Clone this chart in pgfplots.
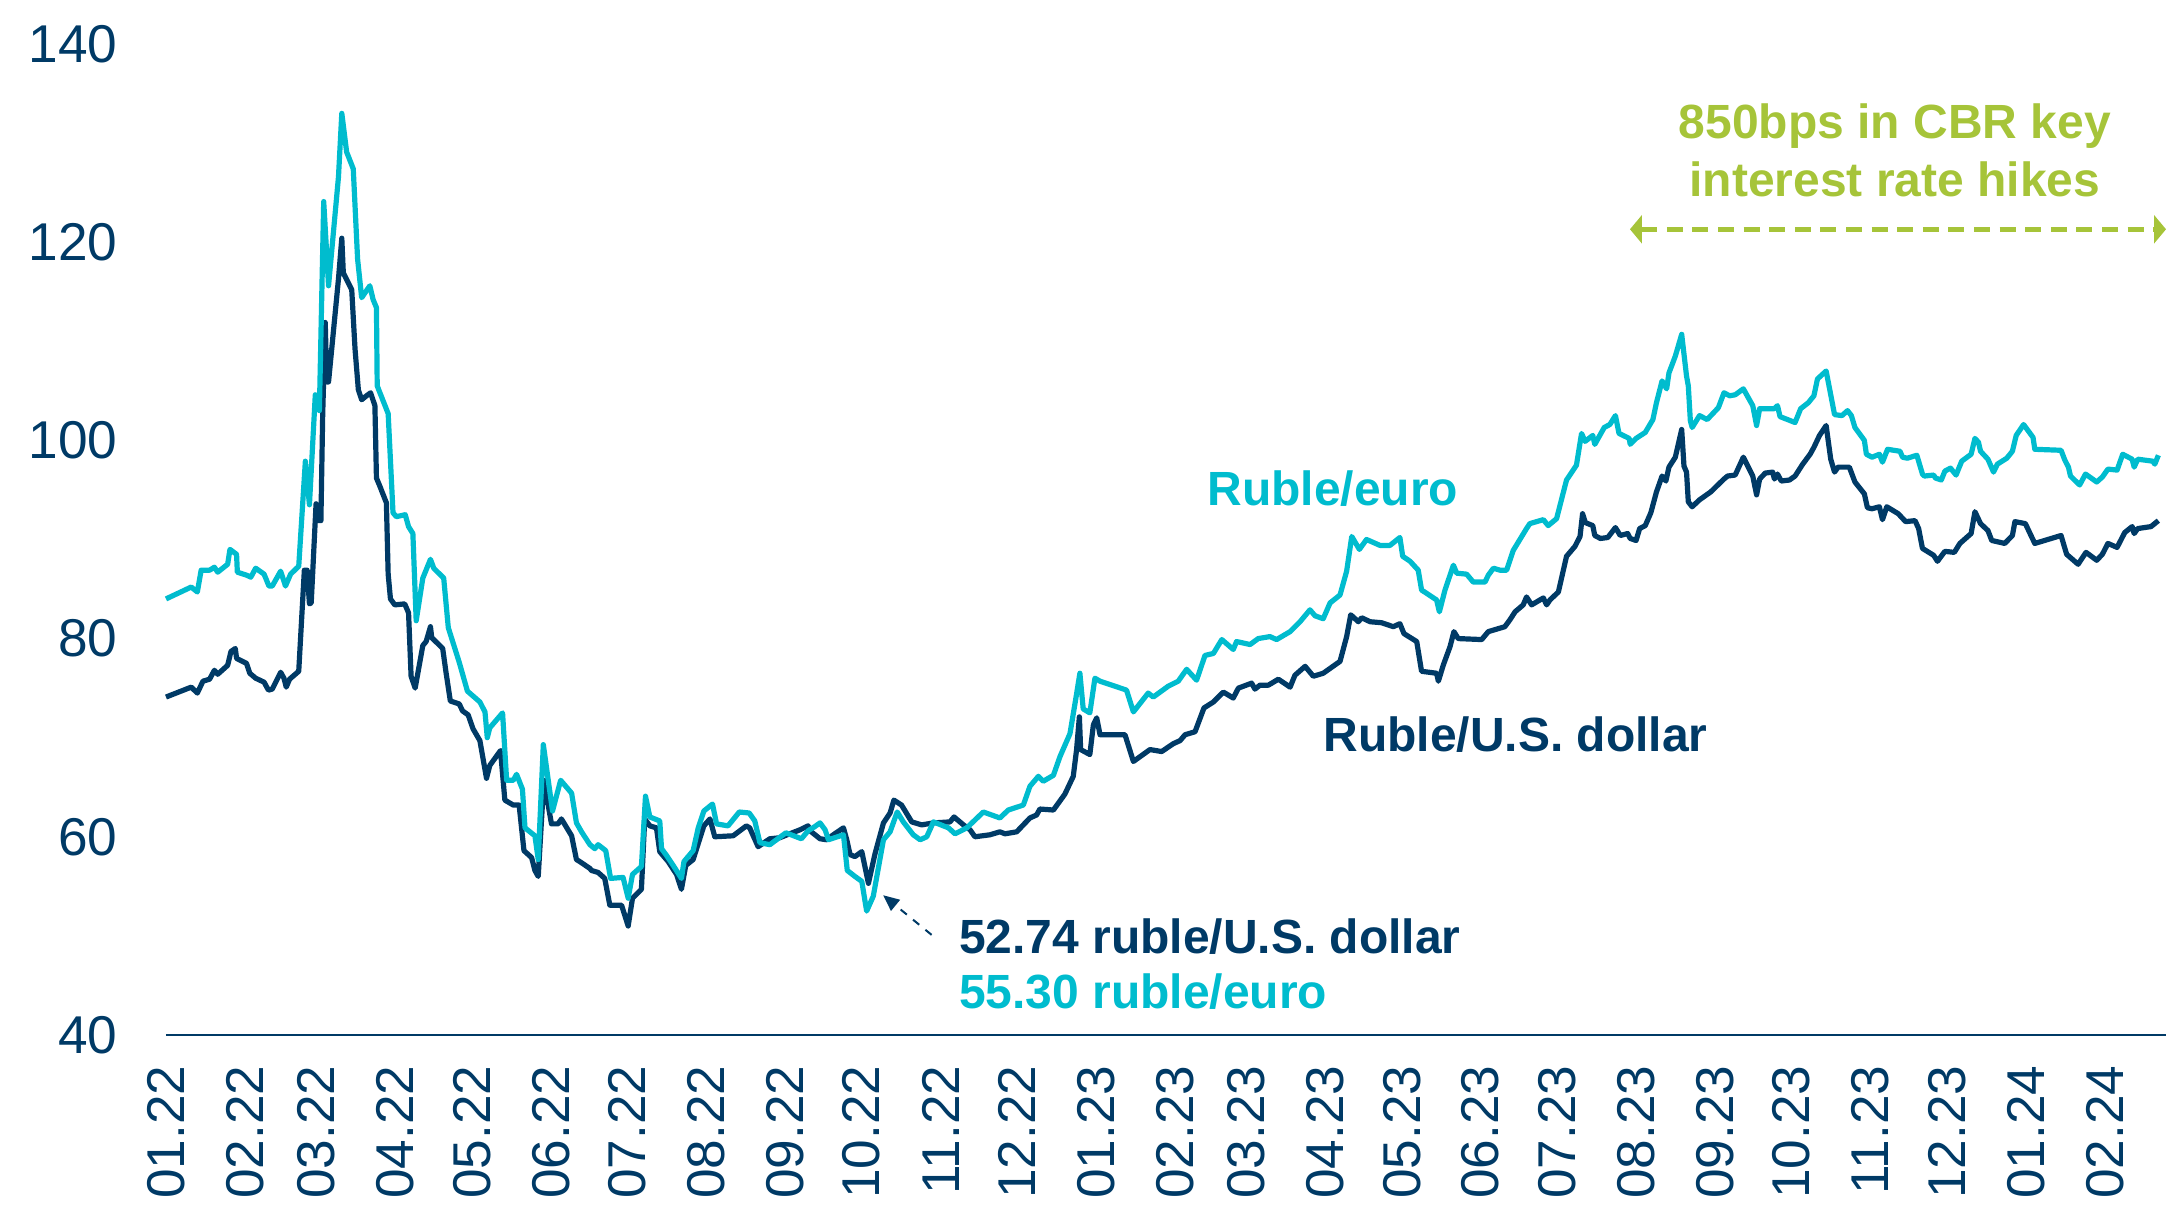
\documentclass[border=0pt]{standalone}
\usepackage{pgfplots}
\pgfplotsset{compat=1.18}
\usepackage{fontspec}
\setmainfont{Liberation Sans}
\usetikzlibrary{arrows.meta}
\definecolor{navy}{RGB}{0,58,102}
\definecolor{teal}{RGB}{0,188,206}
\definecolor{lime}{RGB}{166,196,57}
\begin{document}
\begin{tikzpicture}
\begin{axis}[
  at={(0,0)}, anchor=south west,
  scale only axis, width=500pt, height=247.75pt,
  xmin=0, xmax=785, ymin=40, ymax=140,
  axis x line*=bottom, axis y line*=left,
  x axis line style={navy, line width=0.6pt},
  y axis line style={draw=none},
  major tick length=0pt,
  ytick={40,60,80,100,120,140},
  xtick={0,31,59,90,120,151,181,212,243,273,304,334,365,396,424,455,485,516,546,577,608,638,669,699,730,761},
  xticklabels={01.22,02.22,03.22,04.22,05.22,06.22,07.22,08.22,09.22,10.22,11.22,12.22,01.23,02.23,03.23,04.23,05.23,06.23,07.23,08.23,09.23,10.23,11.23,12.23,01.24,02.24},
  /pgf/number format/assume math mode=true,
  tick label style={font=\fontsize{13.3}{16}\selectfont, text=navy},
  yticklabel style={anchor=east, inner sep=0pt, xshift=-12pt},
  xticklabel style={yshift=-7.5pt, rotate=90, anchor=east, inner sep=0pt},
  clip=false,
]
% Ruble / U.S. dollar
\addplot[navy, line width=1.3pt, line join=round] coordinates {
(0,74.1)(9.9,75.1)(12.3,74.5)(14.5,75.7)(17.1,75.9)(19.0,76.8)(20.3,76.4)(24.2,77.3)(25.5,78.7)(27.2,79.0)(27.7,78.0)(31.6,77.5)(32.9,76.5)(35.2,76.0)(38.5,75.6)(40.2,74.8)(41.7,74.9)(45.0,76.6)(46.3,76.0)(47.2,75.1)(48.5,75.9)(52.1,76.7)(54.3,86.9)(55.4,86.9)(56.3,83.5)(57.0,83.6)(58.9,93.6)(59.9,91.9)(60.8,91.9)(61.5,102.6)(62.5,111.9)(63.1,105.9)(63.8,105.9)(67.7,116.3)(69.0,120.4)(69.6,116.9)(72.9,115.2)(74.2,109.2)(75.5,105.1)(76.8,104.1)(78.7,104.5)(80.3,104.8)(82.0,103.5)(82.6,96.2)(83.9,95.4)(86.5,93.7)(87.2,86.5)(88.1,84.0)(89.8,83.4)(93.7,83.5)(95.2,82.6)(96.2,76.2)(97.8,75.0)(100.8,79.3)(102.1,79.7)(103.8,81.2)(104.3,80.1)(108.6,79.0)(109.9,76.6)(111.6,73.7)(115.1,73.4)(116.4,72.7)(118.6,72.3)(120.5,70.9)(123.2,69.7)(125.8,65.9)(127.1,67.2)(131.3,68.7)(133.0,63.7)(136.3,63.2)(138.6,63.2)(140.5,58.6)(143.5,57.9)(144.8,56.6)(146.1,56.0)(148.3,65.7)(151.3,61.3)(153.9,61.3)(155.2,61.8)(159.2,60.1)(161.1,57.7)(162.4,57.5)(166.4,56.8)(167.0,56.6)(169.6,56.4)(172.2,55.8)(174.2,53.1)(178.8,53.1)(181.4,51.0)(183.1,53.8)(186.6,54.7)(187.9,61.8)(189.9,61.1)(192.5,60.9)(193.8,58.5)(197.1,57.5)(200.4,56.2)(202.3,54.7)(204.0,57.1)(206.9,57.7)(209.5,59.8)(211.1,61.1)(213.5,61.8)(215.4,60.0)(222.6,60.1)(227.8,61.1)(229.1,60.9)(232.4,59.0)(237.0,59.8)(240.9,59.9)(244.8,60.3)(248.8,60.7)(252.0,61.1)(253.3,60.5)(256.7,59.8)(259.3,59.7)(261.9,60.2)(265.9,60.9)(267.2,59.7)(268.5,58.2)(270.4,58.0)(273.1,58.5)(275.7,55.3)(278.3,58.3)(281.6,61.4)(284.2,62.4)(285.7,63.7)(288.7,63.2)(292.7,61.5)(296.6,61.2)(301.2,61.4)(307.7,61.5)(309.3,62.0)(313.0,61.2)(315.6,60.7)(317.5,60.0)(323.4,60.2)(327.3,60.5)(329.3,60.3)(333.9,60.5)(336.5,61.2)(339.1,61.9)(341.7,62.2)(343.0,62.8)(348.3,62.7)(352.8,64.3)(356.1,66.1)(357.4,68.8)(358.5,72.1)(359.0,68.8)(362.6,68.3)(364.0,71.3)(365.3,72.0)(366.6,70.3)(376.4,70.3)(379.7,67.6)(386.2,68.8)(390.8,68.6)(395.4,69.4)(398.0,69.7)(400.0,70.3)(403.9,70.6)(407.4,73.0)(411.1,73.6)(415.0,74.6)(418.9,74.0)(420.9,75.0)(426.1,75.5)(427.4,74.9)(429.4,75.3)(432.7,75.3)(436.6,75.9)(441.2,75.1)(443.1,76.3)(447.1,77.2)(450.3,76.2)(454.2,76.5)(460.8,77.7)(463.4,80.2)(465.0,82.4)(468.0,81.7)(469.3,82.1)(472.6,81.7)(477.1,81.6)(481.7,81.2)(484.3,81.5)(485.9,80.5)(490.9,79.7)(492.8,76.7)(498.7,76.5)(499.4,75.7)(501.3,77.3)(504.0,79.2)(505.5,80.7)(507.2,80.0)(516.4,79.9)(519.0,80.7)(525.5,81.2)(527.5,81.9)(529.5,82.7)(532.7,83.4)(534.0,84.2)(536.0,83.4)(540.6,84.1)(541.9,83.4)(543.2,83.9)(546.5,84.7)(549.7,88.3)(553.0,89.3)(555.0,90.3)(556.0,92.6)(557.1,91.7)(560.0,91.4)(560.8,90.4)(563.0,90.1)(565.9,90.2)(568.9,91.2)(570.8,90.4)(573.7,90.6)(574.7,90.1)(577.0,89.9)(578.4,91.1)(580.6,91.4)(582.8,92.7)(585.0,94.8)(587.2,96.4)(588.7,95.9)(589.9,97.3)(592.4,98.3)(594.9,101.1)(595.8,97.4)(596.8,96.8)(597.5,93.8)(599.0,93.3)(601.9,94.0)(606.3,94.8)(611.5,96.1)(612.9,96.4)(615.9,96.5)(619.1,98.3)(622.8,96.4)(624.3,94.5)(625.5,96.1)(627.7,96.7)(630.6,96.8)(631.3,96.1)(632.5,96.6)(634.0,95.9)(637.2,96.0)(639.4,96.4)(642.4,97.6)(645.3,98.6)(646.8,99.3)(649.0,100.5)(651.6,101.5)(653.4,98.1)(654.9,96.8)(656.3,97.3)(660.7,97.3)(662.9,95.8)(666.6,94.6)(667.8,93.2)(669.6,93.1)(672.5,93.3)(673.7,92.0)(675.4,93.3)(679.9,92.6)(682.8,91.8)(686.5,91.9)(687.9,91.1)(689.4,89.1)(693.8,88.4)(695.3,87.8)(698.2,88.8)(701.9,88.7)(704.1,89.6)(708.5,90.6)(710.0,92.8)(712.2,91.6)(715.1,90.9)(716.6,89.9)(721.7,89.6)(724.7,90.4)(725.7,91.8)(729.8,91.6)(732.0,90.4)(733.5,89.6)(743.8,90.4)(746.0,88.5)(750.5,87.5)(753.6,88.7)(757.8,87.9)(760.0,88.5)(762.2,89.6)(765.8,89.2)(768.8,90.7)(771.7,91.3)(772.5,90.6)(773.9,91.1)(779.1,91.3)(782.0,91.9)
};
% Ruble / euro
\addplot[teal, line width=1.3pt, line join=round] coordinates {
(0,84.0)(9.9,85.2)(12.3,84.7)(13.8,86.9)(17.1,86.9)(19.0,87.2)(20.3,86.7)(24.2,87.5)(25.1,89.0)(27.7,88.5)(28.0,86.7)(31.6,86.4)(33.3,86.2)(35.2,87.1)(38.5,86.5)(40.4,85.3)(41.7,85.3)(45.0,86.8)(46.9,85.3)(48.9,86.5)(52.1,87.3)(54.7,97.9)(56.3,93.5)(58.6,104.6)(60.2,103.0)(61.9,124.1)(63.8,115.6)(67.7,126.6)(69.0,133.0)(70.9,129.1)(73.5,127.4)(75.2,118.3)(76.8,114.4)(80.0,115.6)(81.3,114.2)(82.6,113.4)(82.9,105.5)(87.2,102.7)(89.1,92.7)(90.4,92.3)(93.9,92.5)(95.2,91.3)(96.9,90.6)(98.2,81.8)(100.8,86.1)(103.8,88.0)(105.1,87.1)(109.0,86.1)(110.8,81.1)(115.1,77.6)(118.3,74.7)(123.2,73.6)(125.2,72.6)(126.1,70.0)(127.1,71.0)(132.1,72.5)(133.7,65.7)(136.3,65.7)(137.6,66.3)(139.9,64.8)(140.9,60.9)(144.8,60.1)(146.1,57.7)(148.1,69.3)(151.7,62.6)(154.9,65.7)(159.2,64.4)(161.1,61.4)(163.1,60.5)(166.4,59.2)(168.3,58.8)(169.6,59.2)(172.6,58.6)(174.5,55.8)(179.4,55.9)(181.4,53.8)(183.1,56.2)(186.6,57.0)(188.2,64.1)(189.9,62.0)(193.8,61.6)(194.5,58.8)(196.5,58.1)(199.1,57.1)(202.3,55.8)(203.3,57.5)(206.9,58.6)(208.9,60.9)(211.1,62.6)(214.5,63.3)(216.1,61.3)(220.6,61.1)(225.0,62.5)(228.9,62.4)(231.1,61.6)(233.1,59.4)(237.0,59.2)(243.3,60.4)(249.4,59.8)(252.0,60.6)(254.5,61.0)(256.7,61.4)(258.7,60.7)(260.0,59.7)(265.9,60.2)(267.4,56.6)(270.4,56.0)(273.1,55.5)(275.0,52.5)(277.6,54.0)(281.6,59.7)(284.2,60.5)(287.0,62.5)(289.4,61.5)(293.3,60.2)(296.0,59.7)(298.6,60.0)(301.2,61.5)(307.1,60.9)(309.7,60.3)(314.3,60.9)(320.8,62.5)(327.3,61.9)(330.6,62.7)(336.5,63.2)(339.1,65.1)(342.4,66.1)(344.3,65.6)(348.3,66.2)(350.9,68.1)(354.8,70.4)(357.2,74.1)(358.7,76.5)(360.0,72.9)(362.6,72.5)(364.6,76.0)(366.6,75.7)(377.0,74.8)(379.7,72.6)(385.5,74.5)(387.5,74.1)(393.4,75.2)(397.3,75.7)(400.6,76.9)(404.5,75.8)(407.8,78.3)(411.1,78.5)(414.4,79.9)(418.9,78.9)(420.2,79.7)(425.5,79.4)(428.7,80.0)(433.3,80.2)(435.9,79.9)(441.2,80.7)(445.1,81.7)(449.0,82.9)(451.0,82.3)(454.2,82.0)(456.9,83.6)(460.8,84.4)(463.4,86.8)(465.4,90.3)(468.4,89.0)(471.2,90.0)(476.5,89.4)(480.4,89.4)(484.3,90.2)(485.4,88.3)(488.3,87.8)(491.5,86.9)(492.8,84.9)(498.7,83.9)(499.8,82.7)(502.0,84.9)(505.3,87.4)(506.6,86.6)(510.5,86.5)(513.1,85.7)(517.7,85.7)(519.0,86.4)(521.0,87.1)(523.6,86.9)(526.2,86.9)(528.8,88.9)(534.0,91.1)(535.3,91.6)(540.6,92.0)(542.5,91.4)(545.8,92.1)(549.7,96.0)(553.6,97.5)(555.6,100.7)(557.0,99.9)(560.0,100.5)(560.8,99.6)(564.5,101.3)(566.7,101.6)(568.9,102.5)(570.3,100.7)(574.3,100.2)(574.7,99.6)(577.0,100.2)(580.6,100.8)(583.6,102.1)(585.0,103.8)(587.2,106.0)(589.0,105.2)(589.9,106.8)(592.4,108.5)(594.9,110.7)(596.8,106.5)(597.5,105.5)(598.3,102.0)(599.0,101.3)(601.9,102.5)(604.9,102.1)(609.3,103.3)(611.5,104.8)(613.7,104.5)(615.9,104.6)(619.1,105.2)(622.8,103.5)(624.3,101.5)(625.5,103.2)(631.3,103.2)(632.5,103.5)(633.5,102.4)(639.4,101.8)(641.6,103.2)(644.6,103.8)(646.8,104.5)(648.2,106.2)(651.6,107.0)(654.9,102.6)(657.8,102.5)(660.0,103.0)(661.5,102.5)(662.9,101.3)(666.6,100.0)(667.4,98.6)(669.6,98.3)(672.5,98.6)(673.7,97.8)(675.7,99.1)(680.6,98.9)(681.6,98.3)(683.5,98.2)(687.2,98.5)(689.4,96.6)(690.1,96.4)(693.8,96.5)(694.5,96.2)(696.8,96.0)(698.2,96.9)(700.4,97.2)(702.6,96.5)(704.8,97.9)(708.5,98.6)(710.0,100.2)(711.4,99.8)(712.2,98.9)(715.1,98.1)(717.3,96.8)(718.8,97.6)(722.5,98.2)(724.7,98.9)(726.2,100.5)(729.1,101.6)(732.8,100.3)(733.5,99.1)(743.8,99.0)(745.3,98.0)(746.7,97.3)(747.5,96.4)(751.1,95.5)(753.4,96.6)(757.8,95.8)(760.0,96.3)(762.2,97.1)(765.8,97.0)(768.0,98.6)(771.7,98.1)(772.5,97.3)(773.9,98.1)(779.8,97.9)(780.6,97.6)(782.0,98.5)
};
% annotations
\node[anchor=west, inner sep=0pt, text=teal, font=\bfseries\fontsize{12}{14}\selectfont] at (axis cs:408.5,95.1) {Ruble/euro};
\node[anchor=west, inner sep=0pt, text=navy, font=\bfseries\fontsize{12}{14}\selectfont] at (axis cs:454,70.3) {Ruble/U.S. dollar};
\node[anchor=west, inner sep=0pt, text=navy, font=\bfseries\fontsize{12}{14}\selectfont] at (axis cs:311,49.9) {52.74 ruble/U.S. dollar};
\node[anchor=west, inner sep=0pt, text=teal, font=\bfseries\fontsize{12}{14}\selectfont] at (axis cs:311,44.4) {55.30 ruble/euro};
\draw[navy, line width=0.5pt, dash pattern=on 2pt off 2pt, -{Triangle[length=4pt,width=3.5pt]}] (axis cs:300.5,50.1) -- (axis cs:281.5,54.1);
\node[inner sep=0pt, text=lime, font=\bfseries\fontsize{12}{14}\selectfont] at (axis cs:678.6,131.7) {850bps in CBR key};
\node[inner sep=0pt, text=lime, font=\bfseries\fontsize{12}{14}\selectfont] at (axis cs:678.6,126.3) {interest rate hikes};
\draw[lime, line width=1.25pt, dash pattern=on 4pt off 2.4pt, {Triangle[length=3pt,width=7pt]}-{Triangle[length=3pt,width=7pt]}] (axis cs:574.6,121.3) -- (axis cs:785,121.3);
\end{axis}
\pgfresetboundingbox
\useasboundingbox (-41.5pt,-42.5pt) rectangle (500pt,258.75pt);
\end{tikzpicture}
\end{document}
